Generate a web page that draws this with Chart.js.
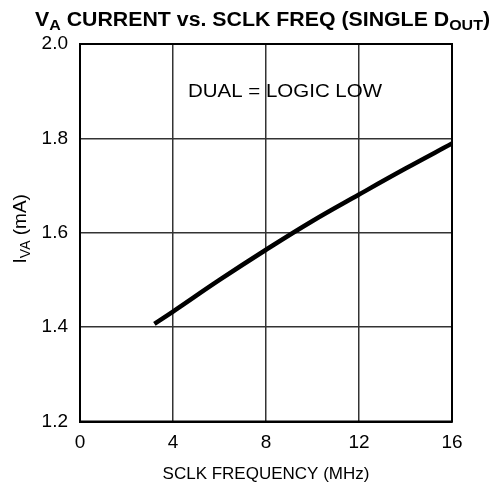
<!DOCTYPE html>
<html>
<head>
<meta charset="utf-8">
<script src="https://cdn.jsdelivr.net/npm/chart.js@4.4.1/dist/chart.umd.min.js"></script>
<style>
  html, body { margin: 0; padding: 0; background: #fff; }
  #c { display: block; }
</style>
</head>
<body>
<canvas id="c" width="492" height="485"></canvas>
<script>
// SCLK frequency (MHz) and VA supply current (mA)
const sclkMHz = [3.2, 4, 6, 8, 10, 12, 14, 16];
const ivaMA   = [1.407, 1.433, 1.500, 1.564, 1.625, 1.681, 1.736, 1.789];
const xTicks  = [0, 4, 8, 12, 16];
const yTicks  = [1.2, 1.4, 1.6, 1.8, 2.0];
const note    = 'DUAL = LOGIC LOW';

const FONT = '"Liberation Sans", Arial, sans-serif';

// draws text made of [string, isSubscript] runs
function drawRuns(ctx, runs, x, y, size, subSize, weight, subDrop) {
  let cx = x;
  for (const [s, sub] of runs) {
    ctx.font = `${weight} ${sub ? subSize : size}px ${FONT}`;
    ctx.fillText(s, cx, sub ? y + subDrop : y);
    cx += ctx.measureText(s).width;
  }
  return cx - x;
}
function runsWidth(ctx, runs, size, subSize, weight) {
  let w = 0;
  for (const [s, sub] of runs) {
    ctx.font = `${weight} ${sub ? subSize : size}px ${FONT}`;
    w += ctx.measureText(s).width;
  }
  return w;
}

const textPlugin = {
  id: 'texts',
  afterDraw(chart) {
    const ctx = chart.ctx;
    const area = chart.chartArea;
    ctx.save();
    ctx.fillStyle = '#000';
    ctx.textBaseline = 'alphabetic';
    ctx.textAlign = 'left';

    // chart title with subscripts, fitted to its span
    const title = [['V', false], ['A', true], [' CURRENT vs. SCLK FREQ (SINGLE D', false], ['OUT', true], [')', false]];
    const size = 20, sub = 15;
    const w = runsWidth(ctx, title, size, sub, 'bold');
    ctx.save();
    ctx.translate(35, 26);
    ctx.scale(455 / w, 1);
    drawRuns(ctx, title, 0, 0, size, sub, 'bold', 4);
    ctx.restore();

    // y axis title, rotated
    const yt = [['I', false], ['VA', true], [' (mA)', false]];
    const yw = runsWidth(ctx, yt, 19, 14, 'normal');
    ctx.save();
    ctx.translate(26, (area.top + area.bottom) / 2 + yw / 2 - 4);
    ctx.rotate(-Math.PI / 2);
    drawRuns(ctx, yt, 0, 0, 19, 14, 'normal', 4);
    ctx.restore();

    // condition note inside the plot
    ctx.font = `normal 18px ${FONT}`;
    const nw = ctx.measureText(note).width;
    ctx.save();
    ctx.translate(188, 97);
    ctx.scale(194 / nw, 1);
    ctx.fillText(note, 0, 0);
    ctx.restore();

    // outer frame
    ctx.strokeStyle = '#000';
    ctx.lineWidth = 2;
    ctx.strokeRect(area.left, area.top, area.right - area.left, area.bottom - area.top);
    ctx.restore();
  }
};

new Chart(document.getElementById('c'), {
  type: 'line',
  data: {
    datasets: [{
      data: sclkMHz.map((x, i) => ({ x, y: ivaMA[i] })),
      borderColor: '#000',
      borderWidth: 4.5,
      pointRadius: 0,
      tension: 0.4,
      borderCapStyle: 'butt'
    }]
  },
  options: {
    responsive: false,
    animation: false,
    devicePixelRatio: 1,
    layout: { padding: { top: 44, right: 40, left: 0, bottom: 0 } },
    plugins: { legend: { display: false }, tooltip: { enabled: false } },
    scales: {
      x: {
        type: 'linear',
        min: 0, max: 16,
        afterBuildTicks(s) { s.ticks = xTicks.map(v => ({ value: v })); },
        afterFit(s) { s.height = 63.5; },
        grid: { color: '#333', lineWidth: 1.5, drawTicks: false },
        border: { color: '#000', width: 2 },
        ticks: { color: '#000', font: { family: FONT, size: 19 }, padding: 10 },
        title: {
          display: true, text: 'SCLK FREQUENCY (MHz)', color: '#000',
          font: { family: FONT, size: 17 }, padding: { top: 7, bottom: 0 }
        }
      },
      y: {
        type: 'linear',
        min: 1.2, max: 2.0,
        afterBuildTicks(s) { s.ticks = yTicks.map(v => ({ value: v })); },
        afterFit(s) { s.width = 80; },
        grid: { color: '#333', lineWidth: 1.5, drawTicks: false },
        border: { color: '#000', width: 2 },
        ticks: { color: '#000', font: { family: FONT, size: 19 }, padding: 12,
                 callback: v => Number(v).toFixed(1) }
      }
    }
  },
  plugins: [textPlugin]
});
</script>
</body>
</html>
